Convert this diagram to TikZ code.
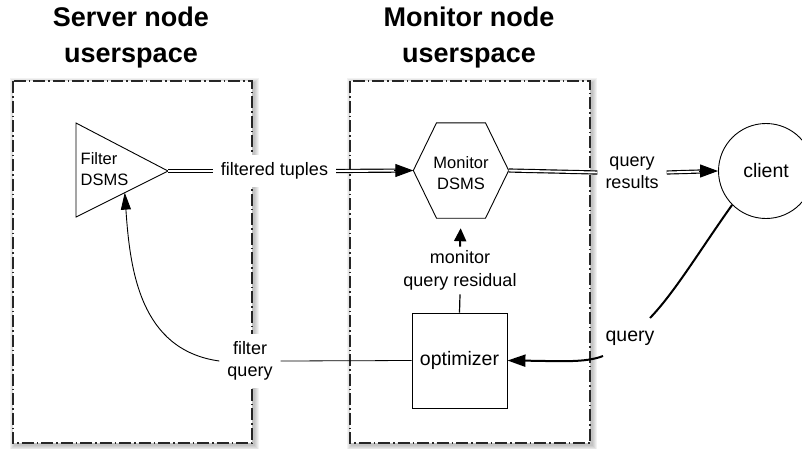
\documentclass[tikz,border=0pt]{standalone}
\usepackage{fontspec}
\setmainfont{Liberation Sans}
\usetikzlibrary{arrows.meta,calc}
\tikzset{
  zone/.style={draw=black!85, line width=1.2pt, dash pattern=on 12pt off 3pt on 1.5pt off 3pt, fill=white},
  title/.style={font=\fontsize{27}{36}\selectfont\bfseries, align=center, inner sep=0pt},
  lbl/.style={font=\fontsize{18}{22.5}\selectfont, align=center, fill=white, inner xsep=8pt, inner ysep=8pt},
  small/.style={font=\fontsize{16.5}{21}\selectfont, inner sep=0pt},
  boxnode/.style={draw, line width=0.9pt, minimum width=95pt, minimum height=95pt, font=\fontsize{19.5}{24}\selectfont},
  dbl/.style={draw, line width=1.15pt, double distance=1.9pt},
  tipA/.style={-{Triangle[length=18pt,width=13pt]}, line width=1pt},
  thin/.style={draw, line width=0.9pt},
}
\begin{document}
\begin{tikzpicture}[x=1pt,y=-1pt]
\useasboundingbox (0,0) rectangle (802,448);
% shadows
\foreach \d in {1,...,5} {
  \fill[black,opacity=0.05] (13-\d+1.5,81-\d+2) rectangle (252+\d+1.5,443+\d+2);
  \fill[black,opacity=0.05] (350-\d+1.5,81-\d+2) rectangle (590+\d+1.5,443+\d+2);
}
\draw[zone] (13,81) rectangle (252,443);
\draw[zone] (350,81) rectangle (590,443);

% titles
\node[title] (t1) at (131,38) {Server node\\userspace};
\node[title] (t2) at (469,38) {Monitor node\\userspace};

% filter triangle
\coordinate (tL1) at (76,123);
\coordinate (tL2) at (76,217);
\coordinate (tA) at (168,171);
\draw[thin] (tL1) -- (tA) -- (tL2) -- cycle;
\node[small, anchor=west, align=left] (filt) at (80.5,169) {Filter\\DSMS};
\coordinate (triB) at ($(tL2)!0.53!(tA)$);

% monitor hexagon
\node[small, align=center, minimum width=95pt, minimum height=95pt] (hex) at (461,173) {Monitor\\DSMS};
\coordinate (hexW) at ($(hex.west)+(0,-2.5)$);
\coordinate (hexE) at ($(hex.east)+(0,-2.5)$);
\coordinate (hexN) at ($(hex.north)+(0,-2.5)$);
\coordinate (hexS) at ($(hex.south)+(0,-2.5)$);
\draw[thin] (hexW) -- ($(hexN)+(-24.5,0)$) -- ($(hexN)+(24.5,0)$) -- (hexE)
  -- ($(hexS)+(24.5,0)$) -- ($(hexS)+(-24.5,0)$) -- cycle;

% client
\node[boxnode, circle, minimum size=95pt] (client) at (766,171) {client};

% optimizer
\node[boxnode] (opt) at (459.5,360.5) {optimizer};

% labels
\node[lbl] (ft) at (274.5,171) {filtered tuples};
\node[lbl] (qr) at (632,172.5) {query\\results};
\node[lbl, inner ysep=4pt] (res) at (460,270.5) {monitor\\query residual};
\node[lbl, inner ysep=7pt] (fq) at (250,361) {filter\\query};
\node[lbl, font=\fontsize{19.5}{24}\selectfont, fill=none, inner sep=2pt] (q) at (630,338) {query};
\coordinate (qtop) at (650,318);
\coordinate (qbot) at (603,356);

% connectors
\draw[dbl] (tA) -- (ft.west);
\draw[dbl, shorten >=17pt] (ft.east) -- (hexW);
\draw[tipA] ($(hexW)+(-19,0)$) -- (hexW);
\draw[dbl] (hexE) -- (qr.west);
\draw[dbl, shorten >=17pt] (qr.east) -- (client.west);
\draw[tipA] ($(client.west)+(-19,0)$) -- (client.west);

\draw[line width=2pt, -{Triangle[length=13pt,width=12pt]}, shorten >=10pt] (res.north) -- (hexS);
\draw[line width=1.2pt] (opt.north) -- (res.south);
\draw[line width=0.8pt] (opt.west) -- (fq.east);
\draw[line width=0.9pt, -{Triangle[length=17pt,width=10pt]}] (fq.west) .. controls (140,350) and (130,270) .. (triB);

\draw[line width=2pt] (client.south west) .. controls (700,250) and (675,292) .. (qtop);
\draw[line width=2pt, -{Triangle[length=18pt,width=12pt]}] (qbot) .. controls (585,363) and (560,361) .. (opt.east);
\end{tikzpicture}
\end{document}
